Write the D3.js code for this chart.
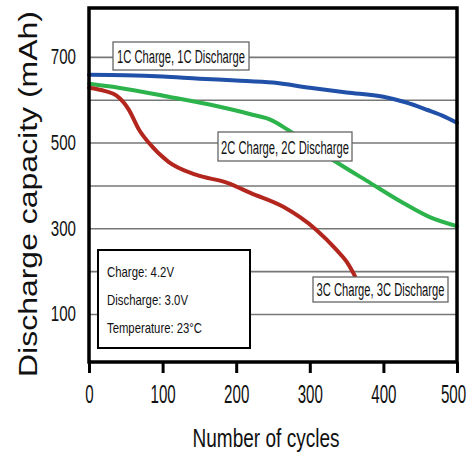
<!DOCTYPE html>
<html>
<head>
<meta charset="utf-8">
<script src="https://cdn.jsdelivr.net/npm/d3@7"></script>
<style>
  body { margin: 0; background: #fff; }
  svg { display: block; font-family: "Liberation Sans", Arial, sans-serif; }
</style>
</head>
<body>
<svg id="chart" width="469" height="452"></svg>
<script>
// values (cycles, mAh)
const xTicks = [0, 100, 200, 300, 400, 500];
const yTicks = [100, 200, 300, 400, 500, 600, 700];
const yLabels = [100, 300, 500, 700];

const blue1C = [
  [0, 658], [50, 657], [100, 654], [150, 649], [200, 645], [250, 640],
  [300, 628], [350, 617], [400, 607], [430, 594], [460, 576], [480, 563], [500, 546]
];
const green2C = [
  [0, 637], [40, 628], [108, 607], [176, 584], [222, 565], [247, 553],
  [270, 530], [300, 495], [331, 460], [382, 406], [427, 359], [463, 326], [500, 305]
];
const red3C = [
  [0, 628], [22, 620], [37, 610], [54, 577], [68, 530], [81, 500], [108, 455],
  [145, 425], [188, 406], [220, 382], [264, 350], [309, 296], [336, 250],
  [350, 222], [358, 199], [362, 186]
];

const seriesNames = ["1C Charge, 1C Discharge", "2C Charge, 2C Discharge", "3C Charge, 3C Discharge"];
const conditions = ["Charge: 4.2V", "Discharge: 3.0V", "Temperature: 23°C"];

const svg = d3.select("#chart");
const plotL = 89, plotR = 457, plotT = 8, plotB = 362;

const x = d3.scaleLinear().domain([0, 500]).range([plotL, plotR]);
const y = d3.scaleLinear().domain([-12, 814]).range([plotB, plotT]);

// gridlines + y labels
const yAxis = svg.append("g")
  .attr("transform", `translate(${plotL},0)`)
  .call(d3.axisLeft(y).tickValues(yTicks).tickSize(-(plotR - plotL)).tickPadding(13)
    .tickFormat(d => yLabels.includes(d) ? d : ""));
yAxis.select(".domain").remove();
yAxis.selectAll(".tick line").attr("stroke", "#777").attr("stroke-width", 1.6);
yAxis.selectAll(".tick text")
  .attr("font-size", 21.5)
  .attr("fill", "#111")
  .attr("textLength", function () { return this.textContent.length * 8.4 || null; })
  .attr("lengthAdjust", "spacingAndGlyphs");

// x axis ticks
const xAxis = svg.append("g")
  .attr("transform", `translate(0,${plotB})`)
  .call(d3.axisBottom(x).tickValues(xTicks).tickSize(11));
xAxis.select(".domain").remove();
xAxis.selectAll(".tick line").attr("stroke", "#000").attr("stroke-width", 3);
xAxis.selectAll(".tick text")
  .attr("y", 41).attr("dy", 0)
  .attr("x", d => d === 500 ? -4 : 0)
  .attr("font-size", 26)
  .attr("fill", "#111")
  .attr("textLength", function () { return this.textContent.length * 8.4; })
  .attr("lengthAdjust", "spacingAndGlyphs");

// curves
const line = d3.line().x(d => x(d[0])).y(d => y(d[1])).curve(d3.curveMonotoneX);
[[blue1C, "#2150a8"], [green2C, "#2db34b"], [red3C, "#b3261e"]].forEach(([data, color]) => {
  svg.append("path")
    .datum(data)
    .attr("fill", "none")
    .attr("stroke", color)
    .attr("stroke-width", 4)
    .attr("stroke-linecap", "round")
    .attr("d", line);
});

// frame
svg.append("rect")
  .attr("x", plotL).attr("y", plotT)
  .attr("width", plotR - plotL).attr("height", plotB - plotT)
  .attr("fill", "none").attr("stroke", "#000").attr("stroke-width", 3.5);

// series labels
const labelBoxes = [
  { x: 113, y: 42, w: 136, h: 28, base: 63 },
  { x: 218, y: 132, w: 134, h: 29, base: 154 },
  { x: 313, y: 277, w: 135, h: 25, base: 296 }
];
labelBoxes.forEach((b, i) => {
  svg.append("rect")
    .attr("x", b.x).attr("y", b.y).attr("width", b.w).attr("height", b.h)
    .attr("fill", "#fff").attr("stroke", "#666").attr("stroke-width", 1.3);
  svg.append("text")
    .attr("x", b.x + b.w / 2).attr("y", b.base)
    .attr("text-anchor", "middle")
    .attr("font-size", 18)
    .attr("fill", "#111")
    .attr("textLength", 128)
    .attr("lengthAdjust", "spacingAndGlyphs")
    .text(seriesNames[i]);
});

// conditions box
svg.append("rect")
  .attr("x", 98).attr("y", 250).attr("width", 152).attr("height", 98)
  .attr("fill", "#fff").attr("stroke", "#000").attr("stroke-width", 2);
const condWidths = [67, 81, 95];
conditions.forEach((t, i) => {
  svg.append("text")
    .attr("x", 107).attr("y", 277 + i * 28)
    .attr("font-size", 15)
    .attr("fill", "#111")
    .attr("textLength", condWidths[i])
    .attr("lengthAdjust", "spacingAndGlyphs")
    .text(t);
});

// axis titles
svg.append("text")
  .attr("transform", "translate(37,194) rotate(-90)")
  .attr("text-anchor", "middle")
  .attr("font-size", 25)
  .attr("fill", "#111")
  .attr("textLength", 366)
  .attr("lengthAdjust", "spacingAndGlyphs")
  .text("Discharge capacity (mAh)");

svg.append("text")
  .attr("x", 266).attr("y", 447)
  .attr("text-anchor", "middle")
  .attr("font-size", 26)
  .attr("fill", "#111")
  .attr("textLength", 147)
  .attr("lengthAdjust", "spacingAndGlyphs")
  .text("Number of cycles");
</script>
</body>
</html>
